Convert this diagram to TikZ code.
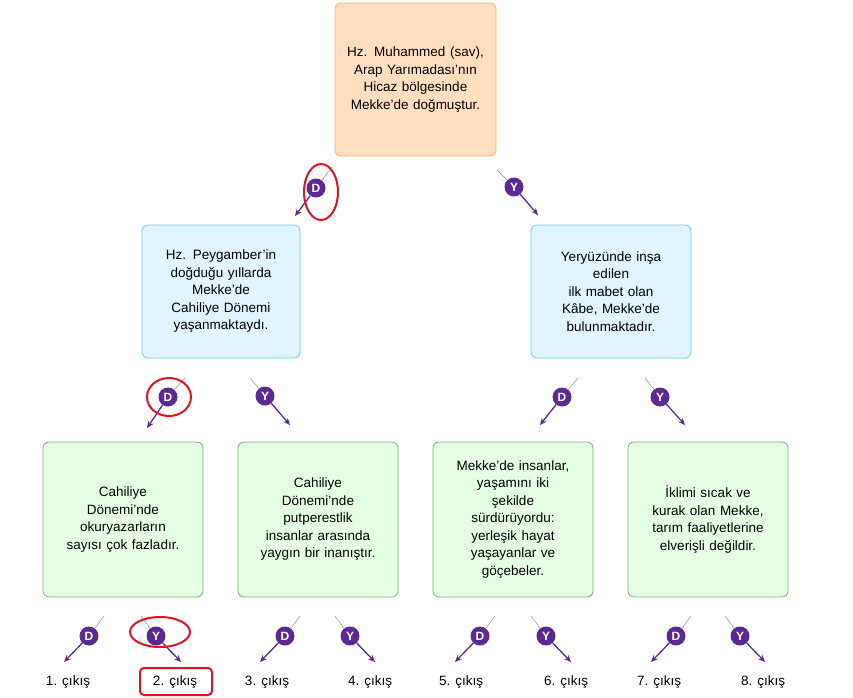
\documentclass[tikz,border=0pt]{standalone}
\usepackage{fontspec}
\setmainfont{Liberation Sans}
\usetikzlibrary{arrows.meta}
\definecolor{purp}{HTML}{5B2A91}
\definecolor{redc}{HTML}{E0141E}
\begin{document}
\begin{tikzpicture}[x=1pt,y=-1pt,
 box/.style={draw,rounded corners=6pt,line width=0.8pt,align=center,font=\fontsize{13.5}{17.5}\selectfont},
 orb/.style={box,fill=orange!25!white,draw=orange!60!white},
 blu/.style={box,fill=cyan!12!white,draw=cyan!60!white},
 grn/.style={box,fill=green!10!white,draw=green!45!black!55!white},
 dot/.style={circle,fill=purp,text=white,inner sep=0pt,minimum size=19pt,font=\bfseries\fontsize{12}{12}\selectfont},
 leadline/.style={draw=purp!60,line width=0.5pt},
 arr/.style={draw=purp,line width=1.3pt,-{Stealth[length=7pt,width=6pt]}},
 exitlbl/.style={font=\fontsize{13.5}{14}\selectfont},
 redmark/.style={draw=redc,line width=2pt}]
\useasboundingbox (0,0) rectangle (853,697);
\node[orb,minimum width=161pt,minimum height=153pt,text width=150pt] (top) at (415.5,79.5) {Hz. Muhammed (sav),\\Arap Yarımadası’nın\\Hicaz bölgesinde\\Mekke’de doğmuştur.};
\node[blu,minimum width=158pt,minimum height=133pt,text width=150pt] (ml) at (221,291.5) {Hz. Peygamber’in\\doğduğu yıllarda\\Mekke’de\\Cahiliye Dönemi\\yaşanmaktaydı.};
\node[blu,minimum width=160pt,minimum height=133pt,text width=150pt] (mr) at (611,291.5) {Yeryüzünde inşa\\edilen\\ilk mabet olan\\Kâbe, Mekke’de\\bulunmaktadır.};
\foreach \n/\x/\t in {b1/123/{Cahiliye\\Dönemi’nde\\okuryazarların\\sayısı çok fazladır.},
 b2/318/{Cahiliye\\Dönemi’nde\\putperestlik\\insanlar arasında\\yaygın bir inanıştır.},
 b3/513/{Mekke’de insanlar,\\yaşamını iki\\şekilde\\sürdürüyordu:\\yerleşik hayat\\yaşayanlar ve\\göçebeler.},
 b4/708/{İklimi sıcak ve\\kurak olan Mekke,\\tarım faaliyetlerine\\elverişli değildir.}}
 \node[grn,minimum width=160pt,minimum height=155pt,text width=152pt] (\n) at (\x,519.5) {\t};
\foreach \id/\sx/\sy/\cx/\cy/\ex/\ey/\l in {
 a/332/167/316/188/295/216/D, b/497/170/514/187/538/215/Y,
 c/185/378/168/397/147/428/D, d/250/378/265/396/290/425/Y,
 e/578/378/562/397/540/425/D, f/645/378/660/397/685/425/Y,
 g/104/616/89/636/64/662/D, h/141/616/156/636/181/662/Y,
 i/300/616/285/636/260/662/D, j/335/616/350/636/375/662/Y,
 k/495/616/480/636/455/662/D, l/531/616/546/636/571/662/Y,
 m/691/616/676/636/651/662/D, n/725/616/740/636/765/662/Y}{
 \coordinate (s\id) at (\sx,\sy);
 \coordinate (e\id) at (\ex,\ey);
 \node[dot] (c\id) at (\cx,\cy) {\l};
 \path[leadline] (s\id) -- (c\id);
 \path[arr] (c\id) -- (e\id);
}
\foreach \x/\k in {68/1,175/2,267/3,370/4,461/5,566/6,659/7,763/8}
 \node[exitlbl] (o\k) at (\x,682) {\k. çıkış};
\draw[redmark] (321,192) ellipse [x radius=17, y radius=28];
\draw[redmark] (169,397) ellipse [x radius=22, y radius=19];
\draw[redmark] (160,632) ellipse [x radius=30, y radius=15];
\draw[redmark,rounded corners=4pt] (140,668) rectangle (212,695);
\end{tikzpicture}
\end{document}
